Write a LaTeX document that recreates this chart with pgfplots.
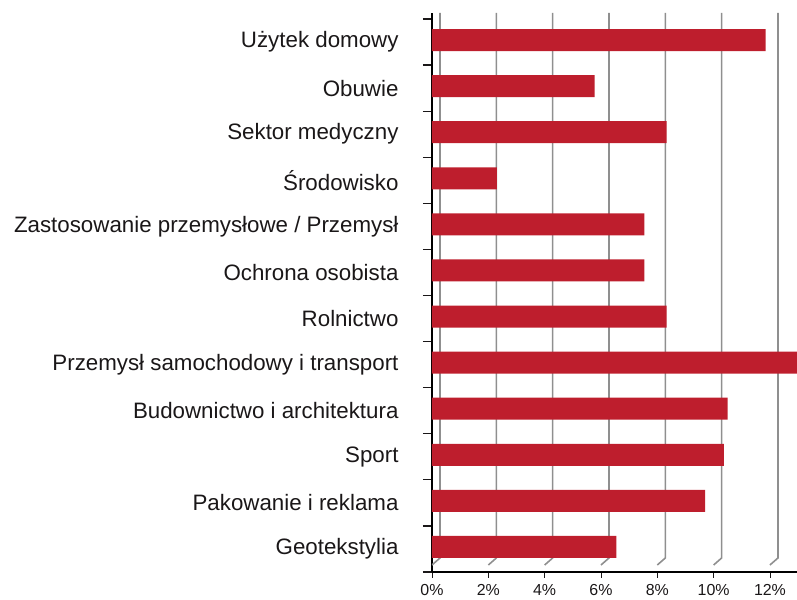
\documentclass[border=0pt]{standalone}
\usepackage{pgfplots}
\pgfplotsset{compat=1.18}
\usepackage{fontspec}
\setmainfont{Liberation Sans}
\definecolor{barred}{HTML}{BE1E2D}
\definecolor{txt}{HTML}{1A1718}
\definecolor{gridc}{HTML}{8F8F8F}
\begin{document}
\begin{tikzpicture}
\path[use as bounding box] (-432bp,-28bp) rectangle (365bp,572bp);
\begin{axis}[
 at={(0,0)}, anchor=south west,
 scale only axis, width=365bp, height=559bp,
 xmin=0, xmax=12.96, ymin=-0.5, ymax=11.63,
 axis lines*=left,
 axis line style={black, line width=2.2bp},
 xtick={0,2,...,12},
 xticklabel={\pgfmathprintnumber[assume math mode=true]{\tick}\%},
 ytick={0,...,11},
 yticklabels={Geotekstylia, Pakowanie i reklama, Sport, Budownictwo i architektura, Przemysł samochodowy i transport, Rolnictwo, Ochrona osobista, Zastosowanie przemysłowe / Przemysł, Środowisko, Sektor medyczny, Obuwie, Użytek domowy},
 minor ytick={-0.5,0.5,...,11.5},
 tick align=outside,
 major tick length=6bp, minor tick length=9bp,
 major y tick style={draw=none},
 minor y tick style={txt, line width=1.2bp},
 major x tick style={txt, line width=0.8bp},
 xticklabel style={font=\fontsize{16}{16}\selectfont, text=txt, inner sep=0pt, text depth=0pt, yshift=-6.5bp},
 yticklabel style={font=\fontsize{22.4}{22.4}\selectfont, text=txt, xshift=-24bp},
 xbar, bar width=22bp, bar shift=2bp,
]
\pgfplotsinvokeforeach{0,2,...,12}{
 \draw[gridc, line width=1.6bp] ([xshift=8bp]axis cs:#1,11.63) -- ([xshift=8bp,yshift=14bp]axis cs:#1,-0.5) -- ([yshift=7bp]axis cs:#1,-0.5);
}
\addplot[fill=barred, draw=none] coordinates {
 (6.55,0) (9.7,1) (10.36,2) (10.5,3) (13.2,4) (8.33,5)
 (7.54,6) (7.54,7) (2.3,8) (8.33,9) (5.77,10) (11.85,11)
};
\end{axis}
\end{tikzpicture}
\end{document}
